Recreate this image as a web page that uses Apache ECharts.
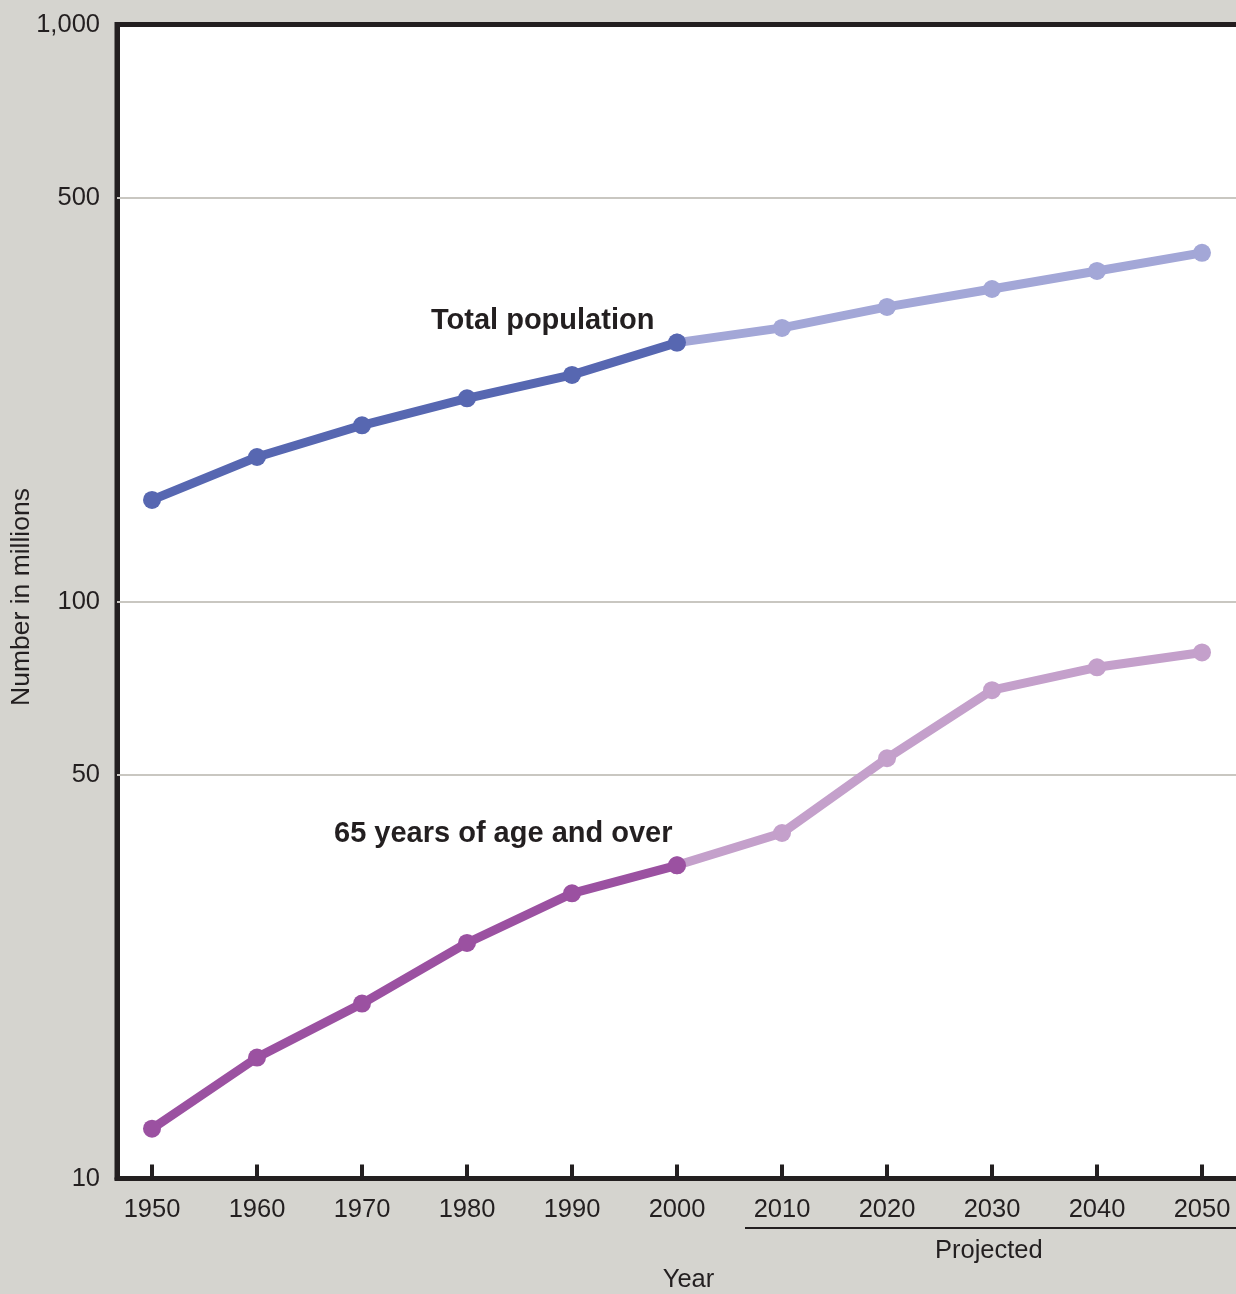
<!DOCTYPE html>
<html>
<head>
<meta charset="utf-8">
<script src="https://cdn.jsdelivr.net/npm/echarts@6/dist/echarts.min.js"></script>
<style>
html,body{margin:0;padding:0;background:#d5d4cf;}
#chart{width:1236px;height:1294px;}
</style>
</head>
<body>
<div id="chart"></div>
<script>
// Data
var years = [1950, 1960, 1970, 1980, 1990, 2000, 2010, 2020, 2030, 2040, 2050];
var totalPop = [150, 178, 202, 225, 247, 281, 298, 324, 348, 374, 402];
var age65 = [12.2, 16.2, 20.1, 25.6, 31.2, 34.9, 39.7, 53.5, 70.2, 76.9, 81.6];
var lastObserved = 2000;
var yTicks = [10, 50, 100, 500, 1000];
var yGridLines = [50, 100, 500];

function pairs(vals, from, to) {
  var out = [];
  for (var i = 0; i < years.length; i++) {
    if (years[i] >= from && years[i] <= to) out.push([years[i], vals[i]]);
  }
  return out;
}

var font = 'Liberation Sans, Arial, Helvetica, sans-serif';
var ink = '#231f20';

function lineSeries(name, data, color, z) {
  return {
    name: name, type: 'line', data: data, z: z,
    symbol: 'circle', symbolSize: 18, showAllSymbol: true,
    lineStyle: {color: color, width: 9},
    itemStyle: {color: color},
    emphasis: {disabled: true},
    animation: false
  };
}

var chart = echarts.init(document.getElementById('chart'));
chart.setOption({
  backgroundColor: '#d5d4cf',
  animation: false,
  grid: {
    left: 117, top: 24.5, right: -14, bottom: 115.5,
    containLabel: false, outerBoundsMode: 'none',
    show: true, backgroundColor: '#ffffff', borderColor: ink, borderWidth: 5
  },
  xAxis: {
    type: 'value', min: 1946.6667, max: 2054.571,
    name: 'Year', nameLocation: 'middle', nameGap: 88,
    nameTextStyle: {fontFamily: font, fontSize: 25.5, color: ink, padding: [0, 0, 0, 10]},
    axisLine: {show: true, lineStyle: {color: ink, width: 5}},
    axisTick: {show: true, inside: true, length: 14, lineStyle: {color: ink, width: 4}, customValues: years},
    axisLabel: {customValues: years, fontFamily: font, fontSize: 25.5, color: ink, margin: 18, formatter: function (v) { return String(v); }},
    splitLine: {show: false}
  },
  yAxis: {
    type: 'log', logBase: 10, min: 10, max: 1000,
    axisLine: {show: true, lineStyle: {color: ink, width: 5}},
    axisTick: {show: false, customValues: yTicks},
    axisLabel: {
      customValues: yTicks, fontFamily: font, fontSize: 25.5, color: ink, margin: 17,
      formatter: function (v) { return Math.round(v).toLocaleString('en-US'); }
    },
    splitLine: {show: false}
  },
  series: [
    Object.assign(lineSeries('Total population (projected)', pairs(totalPop, lastObserved, 2050), '#a3a7d7', 2), {
      markLine: {
        silent: true, symbol: 'none', label: {show: false}, z: 1,
        lineStyle: {color: '#c9c7c1', width: 2, type: 'solid'},
        data: yGridLines.map(function (v) { return {yAxis: v}; })
      }
    }),
    lineSeries('Total population', pairs(totalPop, 1950, lastObserved), '#5767b1', 3),
    lineSeries('65 years of age and over (projected)', pairs(age65, lastObserved, 2050), '#c4a0cb', 2),
    lineSeries('65 years of age and over', pairs(age65, 1950, lastObserved), '#9b51a1', 3)
  ],
  graphic: [
    {type: 'text', x: 22, y: 597, rotation: Math.PI / 2, z: 10,
     style: {text: 'Number in millions', fontFamily: font, fontSize: 26.5, fill: ink, align: 'center', verticalAlign: 'middle'}},
    {type: 'text', left: 431, top: 306, z: 10, style: {text: 'Total population', fontFamily: font, fontSize: 29, fontWeight: 'bold', fill: ink}},
    {type: 'text', left: 334, top: 819, z: 10, style: {text: '65 years of age and over', fontFamily: font, fontSize: 29, fontWeight: 'bold', fill: ink}},
    {type: 'line', z: 10, shape: {x1: 745, y1: 1228, x2: 1240, y2: 1228}, style: {stroke: ink, lineWidth: 2}},
    {type: 'text', left: 935, top: 1238, z: 10, style: {text: 'Projected', fontFamily: font, fontSize: 25.5, fill: ink}}
  ]
});
</script>
</body>
</html>
